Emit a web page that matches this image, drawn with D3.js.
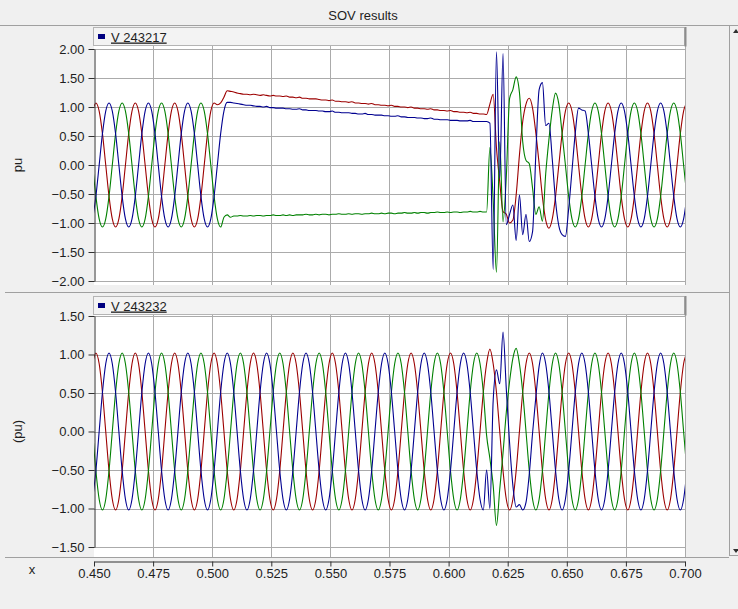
<!DOCTYPE html>
<html>
<head>
<meta charset="utf-8">
<title>SOV results</title>
<script src="https://d3js.org/d3.v7.min.js"></script>
<style>
body { margin: 0; background: #f0f0f0; }
svg { display: block; font-family: "Liberation Sans", Arial, sans-serif; }
</style>
</head>
<body>
<div id="chart"></div>
<script>
/* recorded samples: one every 1/720 s (12 per 60 Hz cycle), first one at t = 0.44941 s */
var sampleStart = 0.44941;
var sampleStep = 1 / 720;

var chartTitle = "SOV results";
var seriesNames = ["V 243217", "V 243232"];
var axisTitles = ["pu", "(pu)"];
var xTitle = "x";
var xTicks = [0.450, 0.475, 0.500, 0.525, 0.550, 0.575, 0.600, 0.625, 0.650, 0.675, 0.700];
var yTicksTop = [2.00, 1.50, 1.00, 0.50, 0.00, -0.50, -1.00, -1.50, -2.00];
var yTicksBottom = [1.50, 1.00, 0.50, 0.00, -0.50, -1.00, -1.50];

/* V 243217, phases a/b/c */
var redTop = [0.93,
  1.07, 0.93, 0.54, 0, -0.54, -0.93, -1.07, -0.93, -0.54, 0, 0.54, 0.93,
  1.07, 0.93, 0.54, 0, -0.54, -0.93, -1.07, -0.93, -0.54, 0, 0.54, 0.93,
  1.07, 0.93, 0.54, 0, -0.54, -0.93, -1.07, -0.93, -0.54, 0, 0.54, 0.93,
  1.07, 1.04, 1.07, 1.17, 1.28, 1.27, 1.26, 1.24, 1.23, 1.22,
  1.22, 1.21, 1.22, 1.21, 1.20, 1.21, 1.20, 1.19, 1.20, 1.19,
  1.19, 1.18, 1.19, 1.17, 1.17, 1.16, 1.17, 1.15, 1.15, 1.14,
  1.14, 1.14, 1.13, 1.12, 1.12, 1.11, 1.12, 1.10, 1.10, 1.09,
  1.09, 1.08, 1.09, 1.07, 1.07, 1.06, 1.06, 1.05, 1.06, 1.04,
  1.04, 1.03, 1.03, 1.02, 1.03, 1.01, 1.01, 1.00, 1.00, 0.99,
  1.00, 0.98, 0.98, 0.97, 0.97, 0.96, 0.97, 0.95, 0.95, 0.94,
  0.94, 0.93, 0.94, 0.92, 0.92, 0.91, 0.91, 0.90, 0.91, 0.89,
  0.89, 0.88, 0.88, 0.87,
  1.05, 1.22, 0.30, -0.29, -0.80, -0.85, -1.00, -0.95, -0.52, 0.17, 0.75, 1.05,
  1.15, 0.98, 0.55, 0.02, -0.55, -0.95, -1.09, -0.93, -0.54, 0, 0.54, 0.93,
  1.07, 0.93, 0.54, 0, -0.54, -0.93, -1.07, -0.93, -0.54, 0, 0.54, 0.93,
  1.07, 0.93, 0.54, 0, -0.54, -0.93, -1.07, -0.93, -0.54, 0, 0.54, 0.93,
  1.07, 0.93, 0.54, 0, -0.54, -0.93, -1.07, -0.93, -0.54, 0, 0.54, 0.93,
  1.07];

var blueTop = [-0.93, -0.54, 0, 0.54, 0.93,
  1.07, 0.93, 0.54, 0, -0.54, -0.93, -1.07, -0.93, -0.54, 0, 0.54, 0.93,
  1.07, 0.93, 0.54, 0, -0.54, -0.93, -1.07, -0.93, -0.54, 0, 0.54, 0.93,
  1.07, 0.93, 0.54, 0, -0.54, -0.93, -1.07, -0.93, -0.54, 0, 0.54, 0.93,
  1.08, 1.08, 1.07, 1.06, 1.05, 1.04, 1.03, 1.03,
  1.02, 1.01, 1.01, 1.00, 1.01, 0.99, 0.99, 0.98, 0.98, 0.98,
  0.97, 0.97, 0.96, 0.96, 0.97, 0.95, 0.95, 0.94, 0.94, 0.94,
  0.93, 0.93, 0.92, 0.92, 0.93, 0.91, 0.91, 0.90, 0.90, 0.90,
  0.89, 0.89, 0.88, 0.88, 0.89, 0.87, 0.87, 0.86, 0.86, 0.86,
  0.85, 0.85, 0.84, 0.84, 0.85, 0.83, 0.83, 0.82, 0.82, 0.82,
  0.81, 0.81, 0.80, 0.80, 0.81, 0.79, 0.79, 0.78, 0.78, 0.78,
  0.77, 0.77, 0.77, 0.76, 0.76, 0.76, 0.77, 0.75, 0.75, 0.75,
  0.75, 0.75,
  0.72, -1.80, 1.95, -0.23, 1.92, -1.03, -0.85, -0.69, -1.30, -0.52,
  -1.20, -0.85, -1.32, -1.15, 0.20, 1.30, 1.42, 0.68, 0.72, 0.10,
  -0.62, -1.05, -1.20, -1.23, -0.75, -0.10, 0.55, 0.98, 0.95, 0.93,
  0.54, 0, -0.54, -0.93, -1.07, -0.93, -0.54, 0, 0.54, 0.93,
  1.07, 0.93, 0.54, 0, -0.54, -0.93, -1.07, -0.93, -0.54, 0, 0.54, 0.93,
  1.07, 0.93, 0.54, 0, -0.54, -0.93, -1.07, -0.93, -0.54];

var greenTop = [0, -0.54, -0.93, -1.07, -0.93, -0.54, 0, 0.54, 0.93,
  1.07, 0.93, 0.54, 0, -0.54, -0.93, -1.07, -0.93, -0.54, 0, 0.54, 0.93,
  1.07, 0.93, 0.54, 0, -0.54, -0.93, -1.07, -0.93, -0.54, 0, 0.54, 0.93,
  1.07, 0.93, 0.54, 0, -0.54, -0.93, -1.07,
  -0.90, -0.86, -0.90, -0.88,
  -0.88, -0.87, -0.88, -0.88, -0.87, -0.88, -0.87, -0.87, -0.88, -0.87,
  -0.87, -0.86, -0.87, -0.87, -0.86, -0.87, -0.86, -0.87, -0.86, -0.86,
  -0.86, -0.85, -0.86, -0.86, -0.85, -0.86, -0.85, -0.85, -0.86, -0.85,
  -0.85, -0.84, -0.85, -0.85, -0.84, -0.85, -0.84, -0.84, -0.85, -0.84,
  -0.84, -0.83, -0.84, -0.84, -0.83, -0.84, -0.83, -0.83, -0.84, -0.83,
  -0.83, -0.82, -0.83, -0.83, -0.82, -0.83, -0.82, -0.82, -0.83, -0.82,
  -0.82, -0.81, -0.82, -0.82, -0.81, -0.82, -0.81, -0.81, -0.82, -0.81,
  -0.81, -0.80, -0.81, -0.81, -0.80, -0.81, -0.81,
  0.30, -0.60, -1.85, 0.40, -0.98, -0.20, 1.15, 1.30, 1.52, 1.25, 0.40, 0.08,
  0.02, -0.40, -0.85, -0.72, -0.97, -0.15, 0.45, 0.95, 1.24, 1.05, 0.54,
  0, -0.54, -0.93, -1.07, -0.93, -0.54, 0, 0.54, 0.93,
  1.07, 0.93, 0.54, 0, -0.54, -0.93, -1.07, -0.93, -0.54, 0, 0.54, 0.93,
  1.07, 0.93, 0.54, 0, -0.54, -0.93, -1.07, -0.93, -0.54, 0, 0.54, 0.93,
  1.07, 0.93, 0.54, 0, -0.54];

/* V 243232, phases a/b/c */
var redBottom = [0.88,
  1.02, 0.88, 0.51, 0, -0.51, -0.88, -1.02, -0.88, -0.51, 0, 0.51, 0.88,
  1.02, 0.88, 0.51, 0, -0.51, -0.88, -1.02, -0.88, -0.51, 0, 0.51, 0.88,
  1.02, 0.88, 0.51, 0, -0.51, -0.88, -1.02, -0.88, -0.51, 0, 0.51, 0.88,
  1.02, 0.88, 0.51, 0, -0.51, -0.88, -1.02, -0.88, -0.51, 0, 0.51, 0.88,
  1.02, 0.88, 0.51, 0, -0.51, -0.88, -1.02, -0.88, -0.51, 0, 0.51, 0.88,
  1.02, 0.88, 0.51, 0, -0.51, -0.88, -1.02, -0.88, -0.51, 0, 0.51, 0.88,
  1.02, 0.88, 0.51, 0, -0.51, -0.88, -1.02, -0.88, -0.51, 0, 0.51, 0.88,
  1.02, 0.88, 0.51, 0, -0.51, -0.88, -1.02, -0.88, -0.51, 0, 0.51, 0.88,
  1.02, 0.88, 0.51, 0, -0.51, -0.88, -1.02, -0.88, -0.51, 0, 0.51, 0.88,
  1.02, 0.88, 0.51, 0, -0.51, -0.88, -1.02, -0.88, -0.51, 0, 0.51, 0.88,
  1.07, 0.88, 0.51, 0, -0.51, -0.88, -1.02, -0.88, -0.51, 0, 0.51, 0.88,
  1.02, 0.88, 0.51, 0, -0.51, -0.88, -1.02, -0.88, -0.51, 0, 0.51, 0.88,
  1.02, 0.88, 0.51, 0, -0.51, -0.88, -1.02, -0.88, -0.51, 0, 0.51, 0.88,
  1.02, 0.88, 0.51, 0, -0.51, -0.88, -1.02, -0.88, -0.51, 0, 0.51, 0.88,
  1.02, 0.88, 0.51, 0, -0.51, -0.88, -1.02, -0.88, -0.51, 0, 0.51, 0.88,
  1.02];

var blueBottom = [-0.88, -0.51, 0, 0.51, 0.88,
  1.02, 0.88, 0.51, 0, -0.51, -0.88, -1.02, -0.88, -0.51, 0, 0.51, 0.88,
  1.02, 0.88, 0.51, 0, -0.51, -0.88, -1.02, -0.88, -0.51, 0, 0.51, 0.88,
  1.02, 0.88, 0.51, 0, -0.51, -0.88, -1.02, -0.88, -0.51, 0, 0.51, 0.88,
  1.02, 0.88, 0.51, 0, -0.51, -0.88, -1.02, -0.88, -0.51, 0, 0.51, 0.88,
  1.02, 0.88, 0.51, 0, -0.51, -0.88, -1.02, -0.88, -0.51, 0, 0.51, 0.88,
  1.02, 0.88, 0.51, 0, -0.51, -0.88, -1.02, -0.88, -0.51, 0, 0.51, 0.88,
  1.02, 0.88, 0.51, 0, -0.51, -0.88, -1.02, -0.88, -0.51, 0, 0.51, 0.88,
  1.02, 0.88, 0.51, 0, -0.51, -0.88, -1.02, -0.88, -0.51, 0, 0.51, 0.88,
  1.02, 0.88, 0.51, 0, -0.51, -0.88, -1.02, -0.88, -0.51, 0, 0.51, 0.88,
  1.02, 0.88, 0.51, 0, -0.51, -0.88, -1.02,
  -0.50, -1.00, 0.40, 0.80, 0.62, 1.29, 0.55, -0.15, -0.70, -0.98,
  -0.95, -1.02, -0.92, -0.55, -0.02, 0.45, 0.85,
  1.02, 0.88, 0.51, 0, -0.51, -0.88, -1.02, -0.88, -0.51, 0, 0.51, 0.88,
  1.02, 0.88, 0.51, 0, -0.51, -0.88, -1.02, -0.88, -0.51, 0, 0.51, 0.88,
  1.02, 0.88, 0.51, 0, -0.51, -0.88, -1.02, -0.88, -0.51, 0, 0.51, 0.88,
  1.02, 0.88, 0.51, 0, -0.51, -0.88, -1.02, -0.88, -0.51];

var greenBottom = [0, -0.51, -0.88, -1.02, -0.88, -0.51, 0, 0.51, 0.88,
  1.02, 0.88, 0.51, 0, -0.51, -0.88, -1.02, -0.88, -0.51, 0, 0.51, 0.88,
  1.02, 0.88, 0.51, 0, -0.51, -0.88, -1.02, -0.88, -0.51, 0, 0.51, 0.88,
  1.02, 0.88, 0.51, 0, -0.51, -0.88, -1.02, -0.88, -0.51, 0, 0.51, 0.88,
  1.02, 0.88, 0.51, 0, -0.51, -0.88, -1.02, -0.88, -0.51, 0, 0.51, 0.88,
  1.02, 0.88, 0.51, 0, -0.51, -0.88, -1.02, -0.88, -0.51, 0, 0.51, 0.88,
  1.02, 0.88, 0.51, 0, -0.51, -0.88, -1.02, -0.88, -0.51, 0, 0.51, 0.88,
  1.02, 0.88, 0.51, 0, -0.51, -0.88, -1.02, -0.88, -0.51, 0, 0.51, 0.88,
  1.02, 0.88, 0.51, 0, -0.51, -0.88, -1.02, -0.88, -0.51, 0, 0.51, 0.88,
  1.02, 0.88, 0.51, 0, -0.51, -0.88, -1.02, -0.88, -0.51, 0, 0.51, 0.88,
  1.02, 0.88, 0.51,
  -0.05, -0.35, -0.70, -1.22, -0.75, -0.28, 0.25, 0.65, 0.95, 1.08,
  0.88, 0.51, 0, -0.51, -0.88, -1.02, -0.88, -0.51, 0, 0.51, 0.88,
  1.02, 0.88, 0.51, 0, -0.51, -0.88, -1.02, -0.88, -0.51, 0, 0.51, 0.88,
  1.02, 0.88, 0.51, 0, -0.51, -0.88, -1.02, -0.88, -0.51, 0, 0.51, 0.88,
  1.02, 0.88, 0.51, 0, -0.51, -0.88, -1.02, -0.88, -0.51, 0, 0.51, 0.88,
  1.02, 0.88, 0.51, 0, -0.51];

var phaseColors = ["#9c0000", "#008000", "#000090"];

var panels = [
  { name: seriesNames[0], title: axisTitles[0], ticks: yTicksTop, series: [redTop, greenTop, blueTop],
    boxTop: 27, plotTop: 46, plotBottom: 285, yTop: 49, yBottom: 281 },
  { name: seriesNames[1], title: axisTitles[1], ticks: yTicksBottom, series: [redBottom, greenBottom, blueBottom],
    boxTop: 296, plotTop: 314, plotBottom: 557, yTop: 316, yBottom: 547 }
];

var width = 738, height = 609;
var left = 94, right = 685;

var svg = d3.select("#chart").append("svg")
    .attr("width", width)
    .attr("height", height);

svg.append("rect").attr("width", width).attr("height", height).attr("fill", "#f0f0f0");

/* title strip */
svg.append("text")
    .attr("x", 363).attr("y", 19.5)
    .attr("text-anchor", "middle")
    .style("font-size", "13px")
    .attr("fill", "#1e1e1e")
    .text(chartTitle);
svg.append("line")
    .attr("x1", 0).attr("x2", width).attr("y1", 25.5).attr("y2", 25.5)
    .attr("stroke", "#a0a0a0");

var x = d3.scaleLinear().domain([0.45, 0.70]).range([left, right]);

/* This function draws one panel */
function drawPanel(p, k) {
    var y = d3.scaleLinear()
        .domain([p.ticks[p.ticks.length - 1], p.ticks[0]])
        .range([p.yBottom, p.yTop]);

    var g = svg.append("g");

    g.append("rect")
        .attr("x", left).attr("y", p.plotTop)
        .attr("width", right - left).attr("height", p.plotBottom - p.plotTop)
        .attr("fill", "#ffffff");

    g.selectAll(".hgrid")
        .data(p.ticks)
        .enter()
        .append("line")
        .attr("x1", left).attr("x2", right)
        .attr("y1", function(d) { return Math.round(y(d)) + 0.5; })
        .attr("y2", function(d) { return Math.round(y(d)) + 0.5; })
        .attr("stroke", "#ababab");

    g.selectAll(".vgrid")
        .data(xTicks.slice(1))
        .enter()
        .append("line")
        .attr("x1", function(d) { return Math.round(x(d)) + 0.5; })
        .attr("x2", function(d) { return Math.round(x(d)) + 0.5; })
        .attr("y1", p.plotTop).attr("y2", p.plotBottom)
        .attr("stroke", "#ababab");

    g.append("clipPath").attr("id", "clip" + k)
        .append("rect")
        .attr("x", left).attr("y", p.plotTop)
        .attr("width", right - left).attr("height", p.plotBottom - p.plotTop);

    var line = d3.line()
        .x(function(d, i) { return x(sampleStart + i * sampleStep); })
        .y(function(d) { return y(d); })
        .curve(d3.curveMonotoneX);

    g.append("g")
        .attr("clip-path", "url(#clip" + k + ")")
        .selectAll("path")
        .data(p.series)
        .enter()
        .append("path")
        .attr("d", line)
        .attr("fill", "none")
        .attr("stroke", function(d, i) { return phaseColors[i]; })
        .attr("stroke-width", 1.1);

    var yAxis = d3.axisLeft(y)
        .tickValues(p.ticks)
        .tickFormat(d3.format(".2f"))
        .tickSize(6)
        .tickSizeOuter(0);

    var ax = g.append("g")
        .attr("transform", "translate(" + (left + 0.5) + ",0)")
        .call(yAxis);
    ax.selectAll("text").style("font-size", "13px").attr("fill", "#1e1e1e").attr("x", -10);
    ax.selectAll("line").attr("stroke", "#303030");
    ax.select(".domain").attr("stroke", "#303030");

    g.append("text")
        .attr("transform", "translate(22," + ((p.yTop + p.yBottom) / 2) + ") rotate(-90)")
        .attr("text-anchor", "middle")
        .style("font-size", "13px")
        .attr("fill", "#1e1e1e")
        .text(p.title);

    /* legend button */
    g.append("rect")
        .attr("x", left - 0.5).attr("y", p.boxTop + 0.5)
        .attr("width", right - left).attr("height", 18)
        .attr("fill", "#f3f3f3")
        .attr("stroke", "#b4b4b4");
    g.append("line")
        .attr("x1", right + 0.5).attr("x2", right + 0.5)
        .attr("y1", p.boxTop).attr("y2", p.boxTop + 19.5)
        .attr("stroke", "#8c8c8c").attr("stroke-width", 2);
    g.append("rect")
        .attr("x", 98).attr("y", p.boxTop + 7)
        .attr("width", 7).attr("height", 5)
        .attr("fill", "#000080");
    g.append("text")
        .attr("x", 111).attr("y", p.boxTop + 14.5)
        .style("font-size", "13px")
        .style("text-decoration", "underline")
        .attr("fill", "#1e1e1e")
        .text(p.name);
}

panels.forEach(drawPanel);

/* panel separators */
svg.append("line")
    .attr("x1", 5).attr("x2", 729).attr("y1", 292.5).attr("y2", 292.5)
    .attr("stroke", "#a0a0a0");
svg.append("line")
    .attr("x1", 5).attr("x2", 729).attr("y1", 557.5).attr("y2", 557.5)
    .attr("stroke", "#a0a0a0");

/* x axis */
var xAxis = d3.axisBottom(x)
    .tickValues(xTicks)
    .tickFormat(d3.format(".3f"))
    .tickSize(5)
    .tickSizeOuter(0);
var xa = svg.append("g")
    .attr("transform", "translate(0,561.5)")
    .call(xAxis);
xa.selectAll("text").style("font-size", "13px").attr("fill", "#1e1e1e").attr("y", 7);
xa.selectAll("line").attr("stroke", "#303030");
xa.select(".domain").attr("stroke", "#303030");

svg.append("text")
    .attr("x", 32).attr("y", 574)
    .attr("text-anchor", "middle")
    .style("font-size", "13px")
    .attr("fill", "#1e1e1e")
    .text(xTitle);

/* scroll bar on the right */
svg.append("rect")
    .attr("x", 729.5).attr("y", 25.5).attr("width", 12).attr("height", 530)
    .attr("fill", "#f0f0f0").attr("stroke", "#a0a0a0");
svg.append("path").attr("d", "M733,33 L736,29 L739,33 Z").attr("fill", "#303030");
svg.append("path").attr("d", "M733,549 L736,553 L739,549 Z").attr("fill", "#303030");
</script>
</body>
</html>
